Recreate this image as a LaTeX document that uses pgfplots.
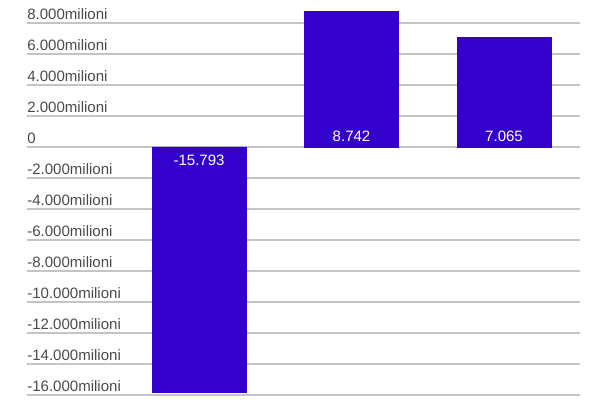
\documentclass[border=0pt]{standalone}
\usepackage{fontspec}
\setmainfont{Liberation Sans}
\usepackage{pgfplots}
\pgfplotsset{compat=1.18}
\definecolor{barblue}{HTML}{3300CC}
\definecolor{gridgray}{HTML}{C4C4C4}
\definecolor{labgray}{HTML}{4A4A4A}
\begin{document}
\begin{tikzpicture}[x=1cm,y=1cm]
\useasboundingbox (-0.675,0) rectangle (14.325,10);
\begin{axis}[
  at={(0,0)}, anchor=south west,
  scale only axis,
  width=13.825cm, height=10cm,
  xmin=-1.128, xmax=2.498,
  ymin=-16322.6, ymax=9483.9,
  axis line style={draw=none},
  xtick=\empty,
  ytick={-16000,-14000,-12000,-10000,-8000,-6000,-4000,-2000,0,2000,4000,6000,8000},
  yticklabels={-16.000milioni,-14.000milioni,-12.000milioni,-10.000milioni,-8.000milioni,-6.000milioni,-4.000milioni,-2.000milioni,0,2.000milioni,4.000milioni,6.000milioni,8.000milioni},
  yticklabel style={anchor=south west, font=\fontsize{10.7}{12}\selectfont, text=labgray, inner xsep=0pt, inner ysep=0.3pt, yshift=1.7pt},
  ymajorgrids,
  grid style={gridgray, line width=0.8pt},
  major tick length=0pt,
  clip=false,
]
\addplot[ybar, bar width=2.35cm, fill=barblue, draw=barblue] coordinates {(0,-15793) (1,8742) (2,7065)};
\addplot[only marks, mark=none, nodes near coords, point meta=explicit symbolic,
  nodes near coords style={anchor=north, text=white, font=\fontsize{10.7}{12}\selectfont, yshift=-2.5pt}]
  table[meta=label] {
x y label
0 0 -15.793
};
\addplot[only marks, mark=none, nodes near coords, point meta=explicit symbolic,
  nodes near coords style={anchor=south, text=white, font=\fontsize{10.7}{12}\selectfont, yshift=0pt}]
  table[meta=label] {
x y label
1 0 8.742
2 0 7.065
};
\end{axis}
\end{tikzpicture}
\end{document}
